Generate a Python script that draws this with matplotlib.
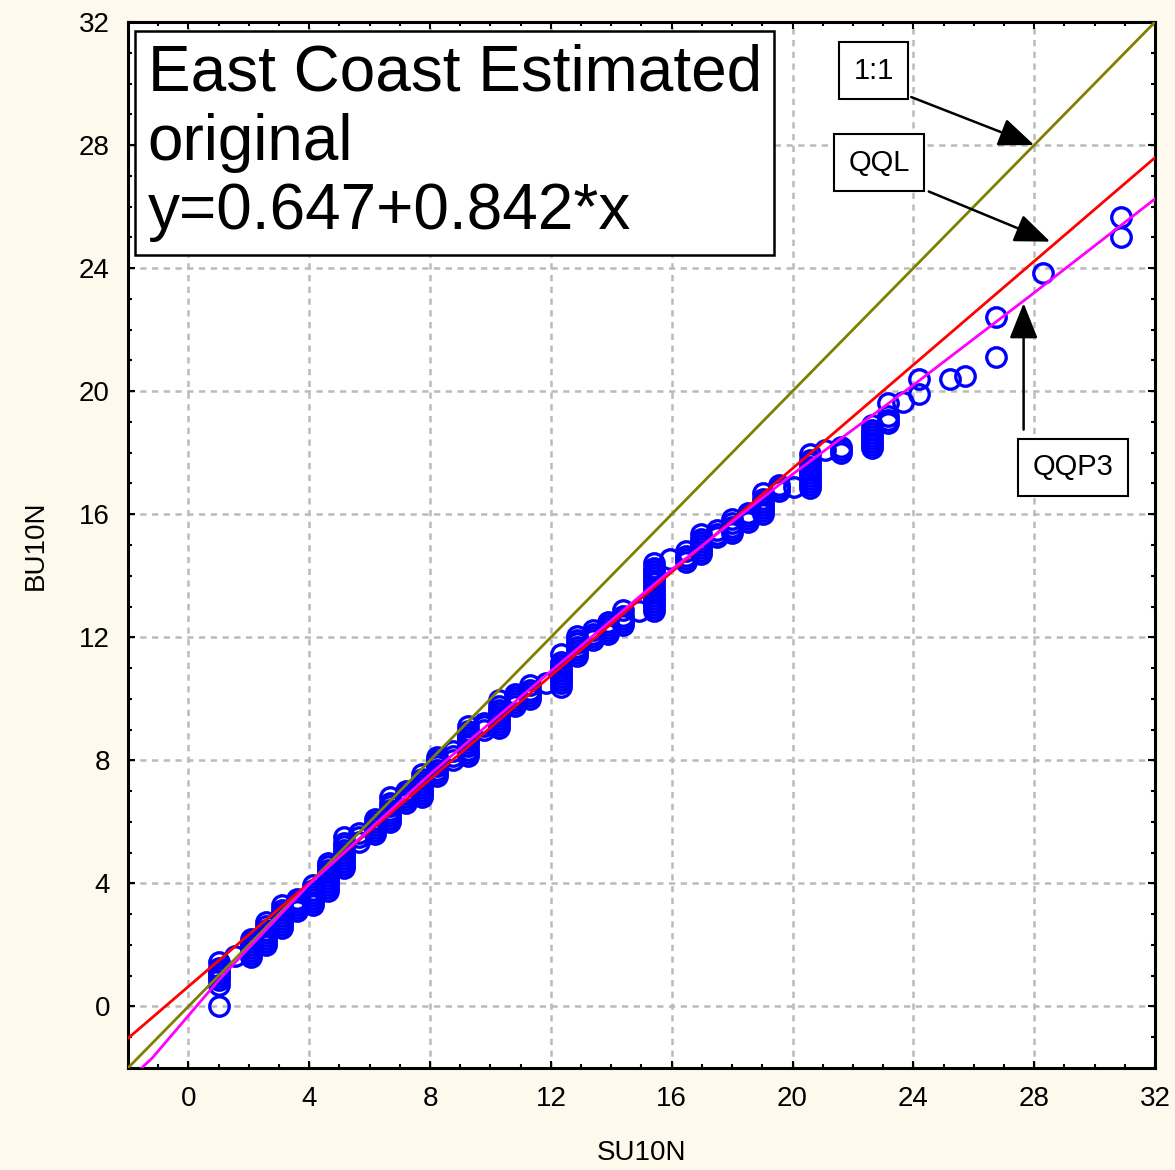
import matplotlib
matplotlib.use("Agg")
import matplotlib.pyplot as plt
from matplotlib import ticker

plt.rcParams['font.family'] = ['Liberation Sans', 'DejaVu Sans']

# quantile pairs: SU10N value -> BU10N quantiles stacked at that value
su10n = [1.03, 1.54, 2.06, 2.57, 3.09, 3.60, 4.12, 4.63, 5.14, 5.66,
         6.17, 6.69, 7.20, 7.72, 8.23, 8.75, 9.26, 9.77, 10.29, 10.80,
         11.32, 11.83, 12.35, 12.86, 13.38, 13.89, 14.40, 14.92, 15.43, 15.95,
         16.46, 16.98, 17.49, 18.01, 18.52, 19.03, 19.55, 20.06, 20.58, 21.09,
         21.61, 22.64, 23.15, 23.66, 24.18, 25.21, 25.72, 26.75, 28.29, 30.87]
bu10n = [
    [0.0, 0.7, 0.85, 0.95, 1.05, 1.15, 1.25, 1.45],
    [1.65],
    [1.6, 1.7, 1.8, 1.9, 2.0, 2.1, 2.2],
    [2.0, 2.1, 2.2, 2.3, 2.4, 2.5, 2.6, 2.75],
    [2.55, 2.65, 2.75, 2.85, 2.95, 3.05, 3.15, 3.3],
    [3.1, 3.2, 3.3, 3.4, 3.5],
    [3.3, 3.4, 3.5, 3.6, 3.7, 3.8, 3.95],
    [3.75, 3.85, 3.95, 4.05, 4.15, 4.25, 4.35, 4.45, 4.55, 4.65],
    [4.5, 4.6, 4.7, 4.8, 4.9, 5.0, 5.1, 5.2, 5.3, 5.5],
    [5.35, 5.5, 5.65],
    [5.6, 5.7, 5.8, 5.9, 6.0, 6.1],
    [6.0, 6.1, 6.2, 6.3, 6.4, 6.5, 6.6, 6.8],
    [6.6, 6.7, 6.8, 6.9, 7.0],
    [6.8, 6.9, 7.0, 7.1, 7.2, 7.3, 7.4, 7.55],
    [7.5, 7.6, 7.7, 7.8, 7.9, 8.0, 8.1],
    [8.0, 8.15, 8.3],
    [8.15, 8.25, 8.35, 8.45, 8.55, 8.65, 8.75, 8.85, 8.95, 9.1],
    [9.0, 9.1, 9.2],
    [9.05, 9.15, 9.25, 9.35, 9.45, 9.55, 9.65, 9.75, 9.95],
    [9.75, 9.85, 9.95, 10.05, 10.15],
    [10.0, 10.1, 10.2, 10.3, 10.45],
    [10.5],
    [10.4, 10.5, 10.6, 10.7, 10.8, 10.9, 11.0, 11.1, 11.2, 11.45],
    [11.4, 11.5, 11.6, 11.7, 11.8, 11.9, 12.05],
    [11.9, 12.0, 12.1, 12.25],
    [12.1, 12.2, 12.3, 12.4, 12.5],
    [12.4, 12.5, 12.6, 12.7, 12.9],
    [12.85],
    [12.85, 12.95, 13.05, 13.15, 13.25, 13.35, 13.45, 13.55, 13.65, 13.75,
     13.85, 13.95, 14.05, 14.15, 14.25, 14.4],
    [14.55],
    [14.45, 14.55, 14.65, 14.8],
    [14.7, 14.8, 14.9, 15.0, 15.1, 15.2, 15.35],
    [15.25, 15.35, 15.5],
    [15.4, 15.5, 15.6, 15.7, 15.85],
    [15.75, 15.85, 15.95, 16.05],
    [16.0, 16.1, 16.2, 16.3, 16.4, 16.5, 16.7],
    [16.75, 16.85, 16.95],
    [16.9],
    [16.85, 16.95, 17.05, 17.15, 17.25, 17.35, 17.45, 17.55, 17.65, 17.75, 17.95],
    [18.1],
    [18.0, 18.1, 18.2],
    [18.15, 18.25, 18.35, 18.45, 18.55, 18.65, 18.75, 18.9],
    [18.95, 19.05, 19.2, 19.6],
    [19.65],
    [19.9, 20.4],
    [20.4],
    [20.5],
    [21.1, 22.4],
    [23.85],
    [25.0, 25.65],
]

# fitted lines
qql_a, qql_b = 0.647, 0.842
line_x = [-2, 32]
qqp3_x = [-1.55, -1.2, 0, 1, 2, 4, 8, 12, 16, 20, 24, 28, 32]
qqp3_y = [-2.0, -1.68, -0.3, 0.85, 1.9, 3.97, 7.55, 10.9, 14.2, 17.3, 20.2, 23.2, 26.25]

ticks = [0, 4, 8, 12, 16, 20, 24, 28, 32]

fig = plt.figure(figsize=(11.75, 11.7), dpi=100, facecolor='#FDF9EC')
ax = fig.add_axes([0.1089, 0.0872, 0.8741, 0.894])
ax.set_facecolor('white')

ax.plot(line_x, line_x, color='#808000', lw=2.0, zorder=3)
ax.plot(line_x, [qql_a + qql_b * v for v in line_x], color='#FF0000', lw=2.0, zorder=3)
ax.plot(qqp3_x, qqp3_y, color='#FF00FF', lw=2.0, zorder=3)

px, py = [], []
for xv, ys in zip(su10n, bu10n):
    for yv in ys:
        px.append(xv)
        py.append(yv)
ax.plot(px, py, 'o', ms=14, mfc='none', mec='#0000FF', mew=2.4, zorder=2, clip_on=False)

ax.set_xlim(-2, 32)
ax.set_ylim(-2, 32)
ax.set_xticks(ticks)
ax.set_yticks(ticks)
ax.xaxis.set_minor_locator(ticker.MultipleLocator(1))
ax.yaxis.set_minor_locator(ticker.MultipleLocator(1))
ax.tick_params(which='both', direction='in', top=True, right=True, width=1.5)
ax.tick_params(which='major', length=5, labelsize=20, pad=13)
ax.tick_params(which='minor', length=3)
ax.grid(True, which='major', color='#BBBBBB', ls=(0, (2.5, 2.2)), lw=1.8)
for s in ax.spines.values():
    s.set_linewidth(2.2)

ax.set_xlabel('SU10N', fontsize=20, labelpad=20)
ax.set_ylabel('BU10N', fontsize=20, labelpad=22)

ax.text(-1.35, 31.3, 'East Coast Estimated\noriginal\ny=0.647+0.842*x',
        fontsize=46, ha='left', va='top', linespacing=1.2, zorder=5,
        bbox=dict(boxstyle='square,pad=0.2', fc='white', ec='black', lw=1.8))

box = dict(boxstyle='square,pad=0.5', fc='white', ec='black', lw=1.5)
arrow = dict(arrowstyle='-|>,head_length=1.0,head_width=0.4', color='black',
             lw=1.8, mutation_scale=22, shrinkA=0, shrinkB=0)
ax.text(22.69, 30.42, '1:1', fontsize=21, ha='center', va='center', bbox=box, zorder=5)
ax.annotate('', xy=(28.0, 28.0), xytext=(23.93, 29.56), arrowprops=arrow, zorder=5)
ax.text(22.86, 27.42, 'QQL', fontsize=21, ha='center', va='center', bbox=box, zorder=5)
ax.annotate('', xy=(28.53, 24.86), xytext=(24.51, 26.49), arrowprops=arrow, zorder=5)
ax.text(29.28, 17.53, 'QQP3', fontsize=21, ha='center', va='center', bbox=box, zorder=5)
ax.annotate('', xy=(27.65, 22.86), xytext=(27.65, 18.75), arrowprops=arrow, zorder=5)

fig.savefig('out.png', dpi=100, facecolor=fig.get_facecolor())
